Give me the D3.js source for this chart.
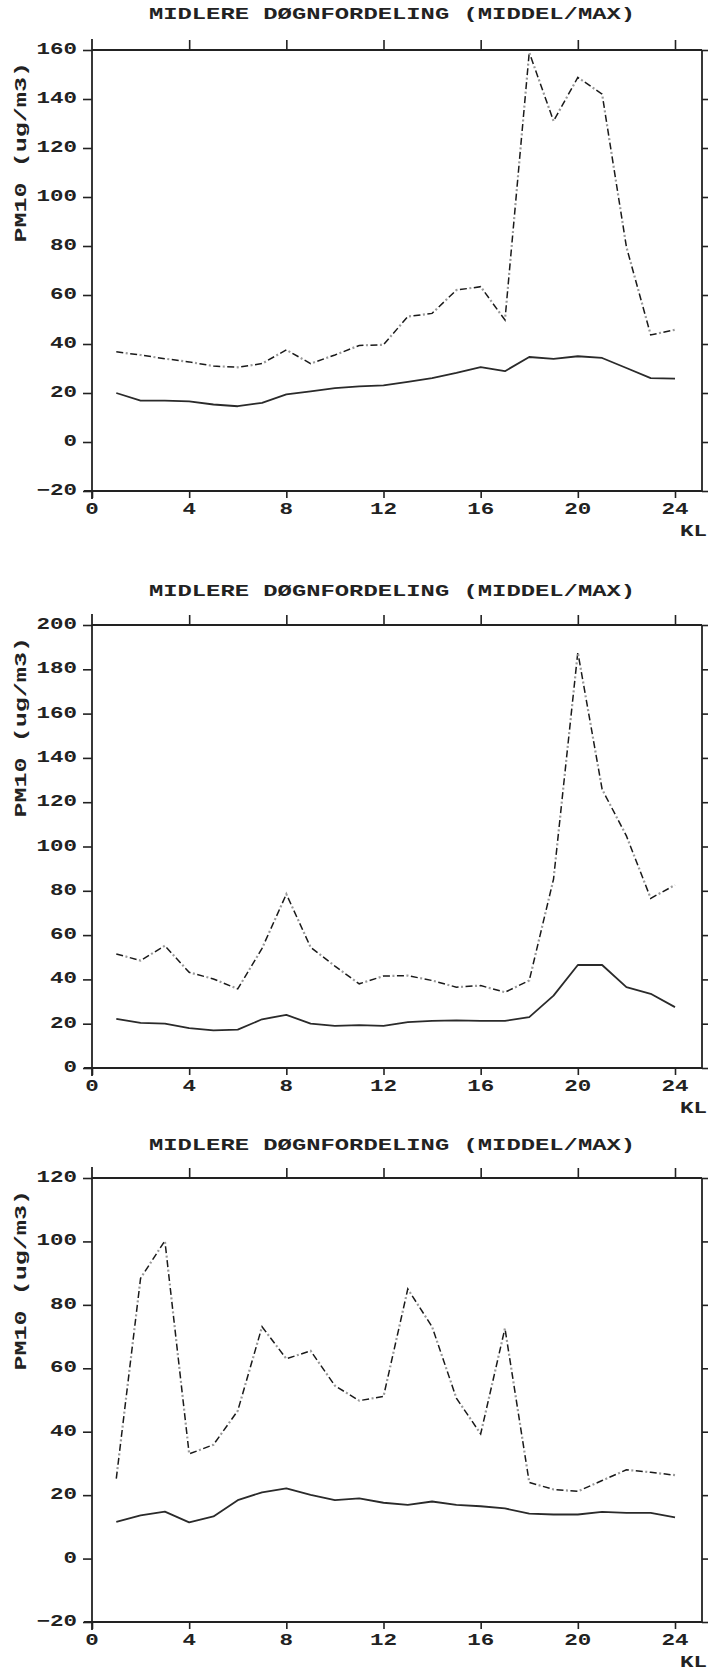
<!DOCTYPE html>
<html>
<head>
<meta charset="utf-8">
<script src="https://cdn.jsdelivr.net/npm/d3@7"></script>
<style>
html,body{margin:0;padding:0;background:#fff;}
svg{display:block;}
text{font-family:"Liberation Mono","DejaVu Sans Mono",monospace;font-weight:bold;fill:#222;}
</style>
</head>
<body>
<svg id="chart" width="708" height="1672"></svg>
<script>
// ---- data ----
const titleText = "MIDLERE DØGNFORDELING (MIDDEL/MAX)";
const yLabelText = "PM10   (ug/m3)";
const xUnitText = "KL";
const hours = d3.range(1, 25);
const xTicks = [0, 4, 8, 12, 16, 20, 24];

const p1YTicks = [-20, 0, 20, 40, 60, 80, 100, 120, 140, 160];
const p1Mean = [20, 16.9, 16.9, 16.6, 15.3, 14.6, 16, 19.4, 20.7, 22, 22.7, 23.1, 24.5, 26.1, 28.2, 30.6, 28.9, 34.7, 33.9, 35, 34.3, 30.2, 26.1, 25.9];
const p1Max  = [36.8, 35.5, 34, 32.7, 31, 30.5, 32, 37.6, 32, 35.5, 39.4, 39.7, 51.2, 52.5, 62, 63.4, 49.8, 159, 131, 148.8, 142, 79.6, 43.7, 45.8];

const p2YTicks = [0, 20, 40, 60, 80, 100, 120, 140, 160, 180, 200];
const p2Mean = [22.2, 20.4, 20, 18, 17, 17.3, 22, 24, 20, 19, 19.4, 19, 20.7, 21.3, 21.5, 21.3, 21.3, 23, 32.7, 46.5, 46.5, 36.5, 33.5, 27.5];
const p2Max  = [51.5, 48.5, 55.2, 43.2, 40.2, 35.7, 54, 78.5, 54.5, 46, 38, 41.5, 41.7, 39.5, 36.5, 37.2, 34.2, 39.5, 85.3, 187.7, 125.8, 104.8, 76.6, 82.6];

const p3YTicks = [-20, 0, 20, 40, 60, 80, 100, 120];
const p3Mean = [11.6, 13.6, 14.8, 11.4, 13.3, 18.4, 20.9, 22.1, 20.1, 18.4, 19, 17.6, 16.9, 18, 16.9, 16.5, 15.8, 14.2, 13.9, 13.9, 14.7, 14.4, 14.4, 13];
const p3Max  = [25.2, 88.4, 100.2, 33, 35.9, 46.6, 73.1, 63, 65.5, 54.5, 49.8, 51.1, 85, 73.1, 50.6, 39.3, 72.6, 24, 21.8, 21.2, 24.6, 28, 27.2, 26.3];

const panels = [
  {yTicks: p1YTicks, mean: p1Mean, max: p1Max, top: 50, bottom: 491, titleY: 15},
  {yTicks: p2YTicks, mean: p2Mean, max: p2Max, top: 625, bottom: 1068, titleY: 592},
  {yTicks: p3YTicks, mean: p3Mean, max: p3Max, top: 1178, bottom: 1622, titleY: 1146}
];

// ---- layout ----
const left = 92, right24 = 675, frameRight = 702;
const charW = 13.5;
const svg = d3.select("#chart");

function stretchedText(g, str, x, y, anchor, size, cw) {
  return g.append("text")
    .attr("x", x).attr("y", y)
    .attr("text-anchor", anchor)
    .attr("dominant-baseline", "central")
    .attr("font-size", size)
    .attr("textLength", str.length * cw)
    .attr("lengthAdjust", "spacingAndGlyphs")
    .text(str);
}

panels.forEach(p => {
  const g = svg.append("g");
  const x = d3.scaleLinear().domain([0, 24]).range([left, right24]);
  const y = d3.scaleLinear().domain(d3.extent(p.yTicks)).range([p.bottom, p.top]);

  // frame
  g.append("line").attr("x1", left).attr("x2", frameRight).attr("y1", p.top).attr("y2", p.top)
    .attr("stroke", "#222").attr("stroke-width", 1.8);
  g.append("line").attr("x1", frameRight).attr("x2", frameRight).attr("y1", p.top).attr("y2", p.bottom)
    .attr("stroke", "#222").attr("stroke-width", 1.8);
  g.append("line").attr("x1", left).attr("x2", left).attr("y1", p.top - 11).attr("y2", p.bottom + 8)
    .attr("stroke", "#222").attr("stroke-width", 1.8);
  g.append("line").attr("x1", left - 8).attr("x2", frameRight).attr("y1", p.bottom).attr("y2", p.bottom)
    .attr("stroke", "#222").attr("stroke-width", 1.8);

  // bottom axis
  const xb = g.append("g").attr("transform", `translate(0,${p.bottom})`)
    .call(d3.axisBottom(x).tickValues(xTicks).tickSize(7).tickFormat(""));
  xb.select(".domain").remove();
  xb.selectAll("line").attr("stroke", "#222").attr("stroke-width", 1.6);
  // top axis ticks
  const xt = g.append("g").attr("transform", `translate(0,${p.top})`)
    .call(d3.axisTop(x).tickValues(xTicks.slice(1)).tickSize(10).tickFormat(""));
  xt.select(".domain").remove();
  xt.selectAll("line").attr("stroke", "#222").attr("stroke-width", 1.6);
  // left axis ticks
  const yl = g.append("g").attr("transform", `translate(${left},0)`)
    .call(d3.axisLeft(y).tickValues(p.yTicks).tickSize(9).tickFormat(""));
  yl.select(".domain").remove();
  yl.selectAll("line").attr("stroke", "#222").attr("stroke-width", 1.6);
  // right axis ticks
  const yr = g.append("g").attr("transform", `translate(${frameRight},0)`)
    .call(d3.axisRight(y).tickValues(p.yTicks).tickSize(8).tickFormat(""));
  yr.select(".domain").remove();
  yr.selectAll("line").attr("stroke", "#222").attr("stroke-width", 1.6);

  // tick labels
  xTicks.forEach(t => {
    stretchedText(g, String(t), x(t), p.bottom + 19, "middle", 16, charW);
  });
  p.yTicks.forEach(t => {
    const s = t < 0 ? "\u2212" + Math.abs(t) : String(t);
    stretchedText(g, s, 77, y(t), "end", 16, charW);
  });
  stretchedText(g, xUnitText, 707, p.bottom + 41, "end", 16, charW);

  // title
  stretchedText(g, titleText, 392, p.titleY, "middle", 16, 14.3);

  // y label
  g.append("text")
    .attr("transform", `translate(22,${p.top + 12}) rotate(-90)`)
    .attr("text-anchor", "end")
    .attr("dominant-baseline", "central")
    .attr("font-size", 16)
    .attr("textLength", yLabelText.length * 12.9)
    .attr("lengthAdjust", "spacingAndGlyphs")
    .text(yLabelText);

  const line = d3.line().x((d, i) => x(hours[i])).y(d => y(d));

  // max series: dash-dot (black dashes, grey dots)
  g.append("path").datum(p.max).attr("d", line)
    .attr("fill", "none").attr("stroke", "#1a1a1a").attr("stroke-width", 1.5)
    .attr("stroke-dasharray", "7,7");
  g.append("path").datum(p.max).attr("d", line)
    .attr("fill", "none").attr("stroke", "#9a9a9a").attr("stroke-width", 2.2)
    .attr("stroke-dasharray", "2,12").attr("stroke-dashoffset", 4.5);

  // mean series: solid
  g.append("path").datum(p.mean).attr("d", line)
    .attr("fill", "none").attr("stroke", "#2a2a2a").attr("stroke-width", 1.8)
    .attr("stroke-linejoin", "round");
});
</script>
</body>
</html>
